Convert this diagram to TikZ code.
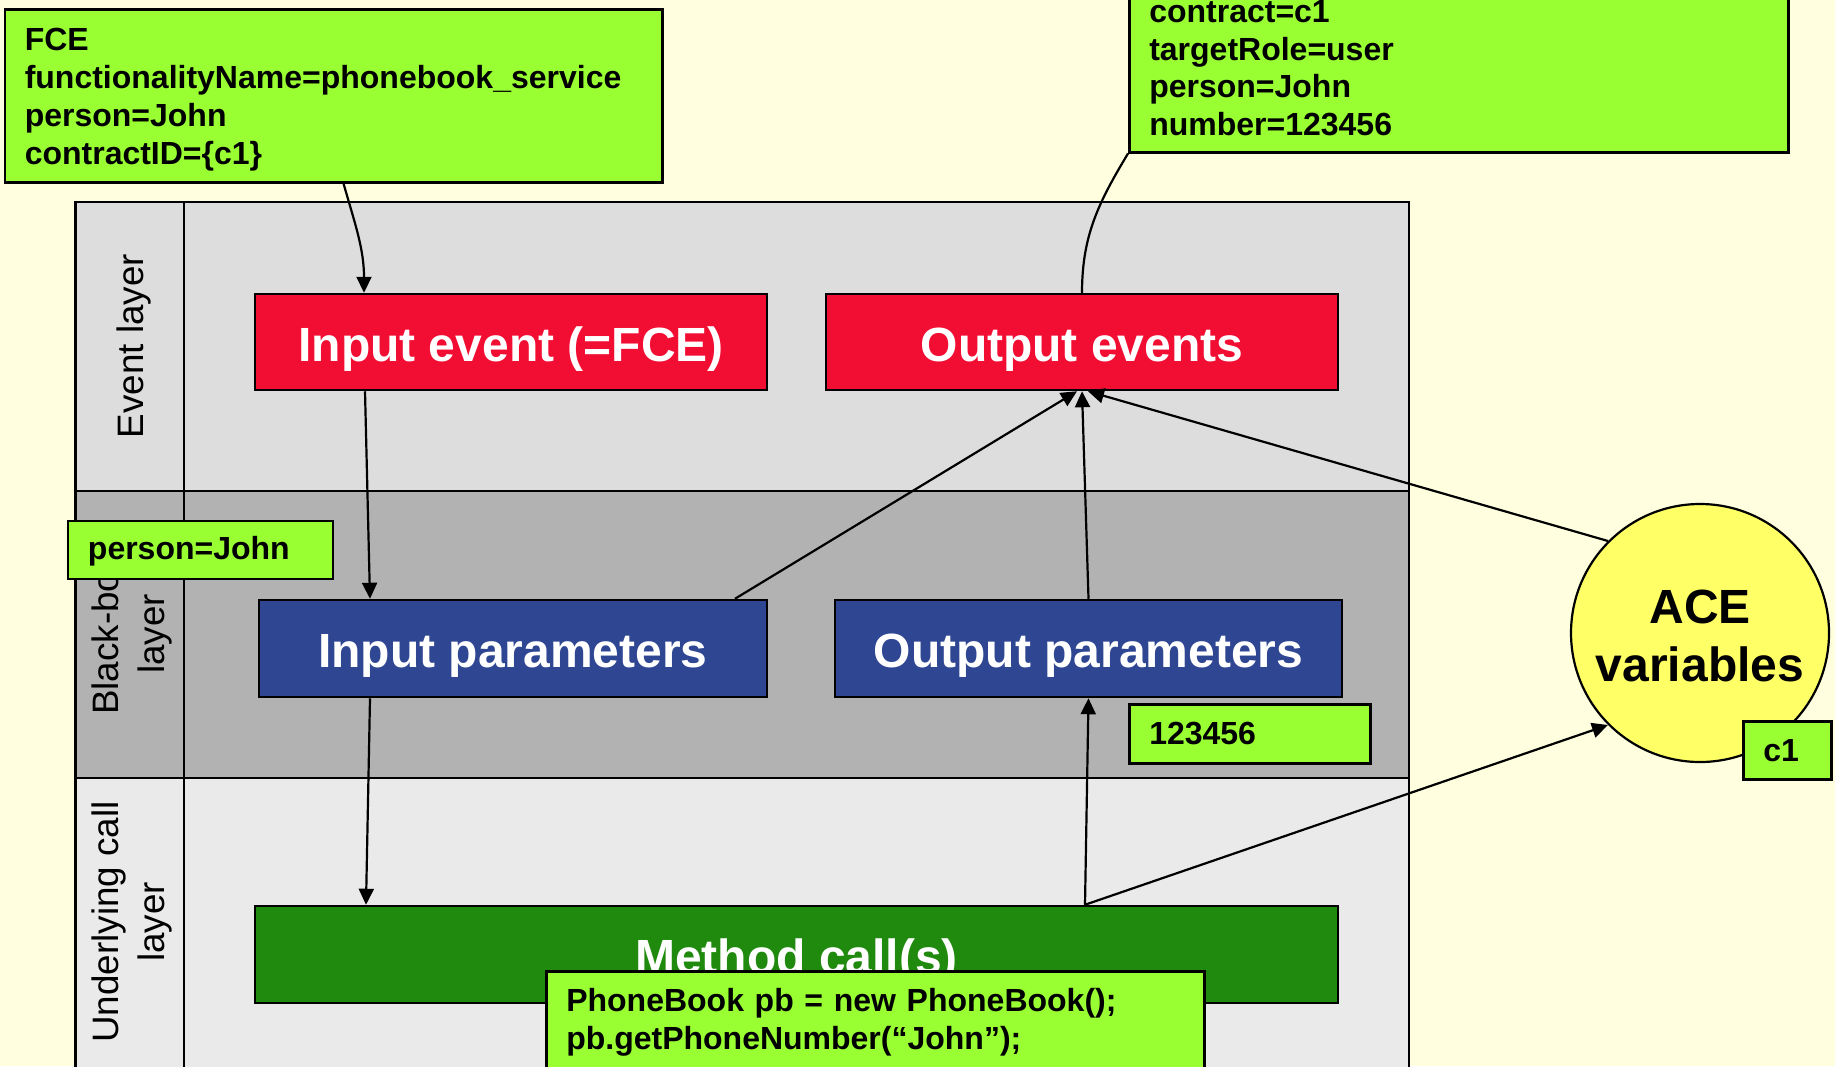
\documentclass[tikz,border=0pt]{standalone}
\usepackage{fontspec}
\setmainfont{Liberation Sans}
\usetikzlibrary{arrows.meta}
\definecolor{bgc}{RGB}{255,255,224}
\definecolor{evc}{RGB}{221,221,221}
\definecolor{bbc}{RGB}{178,178,178}
\definecolor{ulc}{RGB}{234,234,234}
\definecolor{redc}{RGB}{242,13,51}
\definecolor{bluec}{RGB}{47,70,147}
\definecolor{greenc}{RGB}{32,138,14}
\definecolor{limec}{RGB}{153,255,51}
\definecolor{yelc}{RGB}{255,255,102}
\begin{document}
\begin{tikzpicture}[x=1pt,y=1pt,
  bigbox/.style={draw=black,line width=2.5pt,text=white,font=\fontsize{48}{58}\selectfont\bfseries,inner sep=0pt,text height=38pt,text depth=0pt},
  note/.style={draw=black,line width=2.5pt,fill=limec,font=\fontsize{32}{37.8}\selectfont\bfseries,inner xsep=20pt,inner ysep=0pt,align=left,anchor=north west},
  layerlbl/.style={rotate=90,font=\fontsize{36.8}{46}\selectfont,align=center},
  conn/.style={line width=2.2pt,-{Triangle[length=16pt,width=15pt]}},
  plainline/.style={line width=2.2pt}]
\useasboundingbox (0,0) rectangle (1835,-1066);
\fill[bgc] (0,0) rectangle (1835,-1066);
\begin{scope}[line width=2.2pt]
\draw[fill=evc] (75.5,-202) rectangle (1409,-490.7);
\draw[fill=bbc] (75.5,-490.7) rectangle (1409,-778);
\draw[fill=ulc] (75.5,-778) rectangle (1409,-1080);
\draw (184,-202) -- (184,-1080);
\end{scope}
\node[layerlbl] (lev) at (134,-346) {Event layer};
\node[layerlbl] (lbb) at (132,-634) {Black-box\\layer};
\node[layerlbl] (lul) at (132,-922) {Underlying call\\layer};

\node[bigbox,fill=redc,minimum width=512pt,minimum height=96pt] (ie) at (511,-342) {Input event (=FCE)};
\node[bigbox,fill=redc,minimum width=512pt,minimum height=96pt] (oe) at (1082,-342) {Output events};
\node[bigbox,fill=bluec,minimum width=508pt,minimum height=97pt] (ip) at (513,-648.5) {Input parameters};
\node[bigbox,fill=bluec,minimum width=507pt,minimum height=97pt] (op) at (1088.5,-648.5) {Output parameters};
\node[bigbox,fill=greenc,minimum width=1083pt,minimum height=97pt] (mc) at (796.5,-954.5) {Method call(s)};

\node[circle,draw=black,line width=2.2pt,fill=yelc,minimum size=258pt,inner sep=0pt,align=center,font=\fontsize{48}{58}\selectfont\bfseries] (ace) at (1700,-633) {\rule{0pt}{40pt}ACE\\variables};

\node[note,text width=617.5pt,minimum height=173pt] (fce) at (3.5,-8) {\rule{0pt}{30pt}FCE\\functionalityName=phonebook\_service\\person=John\\contractID=\{c1\}};
\node[note,text width=619pt,minimum height=168pt] (rb) at (1128,17) {contract=c1\\targetRole=user\\person=John\\number=123456};
\node[note,text width=225pt,minimum height=58pt] (pj) at (66.7,-519.5) {\rule{0pt}{27pt}person=John};
\node[note,text width=201pt,minimum height=59pt] (num) at (1128,-703) {123456};
\node[note,text width=48pt,minimum height=58pt] (cone) at (1742,-720) {c1};
\node[note,text width=618pt,minimum height=100pt] (code) at (545,-970) {\rule{0pt}{26pt}PhoneBook pb = new PhoneBook();\\pb.getPhoneNumber(“John”);};

\draw[conn] ([xshift=10pt]fce.south) to[out=-74,in=90] ([xshift=-147pt]ie.north);
\draw[conn] ([xshift=-146pt]ie.south) -- ([xshift=-143pt]ip.north);
\draw[conn] ([xshift=-143pt]ip.south) -- ([xshift=-430.5pt]mc.north);
\draw[conn] ([xshift=222pt]ip.north) -- ([xshift=-5pt]oe.south);
\draw[conn] (op.north) -- (oe.south);
\draw[conn] (ace.135) -- ([xshift=6pt]oe.south);
\draw[conn] ([xshift=288.5pt]mc.north) -- (op.south);
\draw[conn] ([xshift=288.5pt]mc.north) -- (ace.225);
\draw[plainline] (rb.south west) to[out=-121,in=90] (oe.north);
\end{tikzpicture}
\end{document}
